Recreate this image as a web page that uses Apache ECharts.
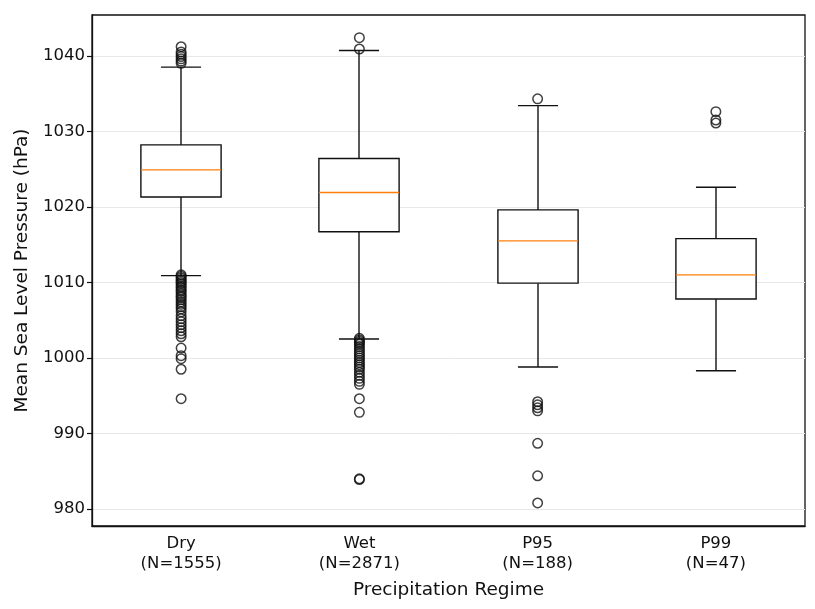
<!DOCTYPE html>
<html>
<head>
<meta charset="utf-8">
<script src="https://cdn.jsdelivr.net/npm/echarts@6/dist/echarts.min.js"></script>
<style>
html, body { margin: 0; padding: 0; background: #fff; }
#main { width: 815px; height: 609px; }
</style>
</head>
<body>
<div id="main"></div>
<script>
var categories = ['Dry\n(N=1555)', 'Wet\n(N=2871)', 'P95\n(N=188)', 'P99\n(N=47)'];
var yTicks = [980, 990, 1000, 1010, 1020, 1030, 1040];

// [whisker low, Q1, median, Q3, whisker high]
var dryBox = [1010.9, 1021.3, 1024.9, 1028.2, 1038.5];
var wetBox = [1002.5, 1016.7, 1021.9, 1026.4, 1040.7];
var p95Box = [998.8, 1009.9, 1015.5, 1019.6, 1033.4];
var p99Box = [998.3, 1007.8, 1011.0, 1015.8, 1022.6];

var dryOutliers = [1041.2, 1040.5, 1040.2, 1039.9, 1039.6, 1039.3, 1039.0,
  1011.0, 1010.8, 1010.6, 1010.4, 1010.2, 1010.0, 1009.8, 1009.5, 1009.3, 1009.0,
  1008.8, 1008.5, 1008.2, 1008.0, 1007.7, 1007.4, 1007.1, 1006.8, 1006.5, 1006.1,
  1005.6, 1005.2, 1004.8, 1004.4, 1004.0, 1003.6, 1003.2, 1002.8,
  1001.3, 1000.3, 999.9, 998.5, 994.6];
var wetOutliers = [1042.4, 1040.9,
  1002.6, 1002.4, 1002.2, 1002.0, 1001.8, 1001.5, 1001.2, 1000.9, 1000.6, 1000.3,
  1000.0, 999.7, 999.4, 999.1, 998.8, 998.5, 998.1, 997.7, 997.3, 996.9, 996.5,
  994.6, 992.8, 984.0, 983.9];
var p95Outliers = [1034.3, 994.2, 993.8, 993.4, 993.0, 988.7, 984.4, 980.8];
var p99Outliers = [1032.6, 1031.5, 1031.1];

var boxes = [dryBox, wetBox, p95Box, p99Box];
var outliers = [dryOutliers, wetOutliers, p95Outliers, p99Outliers];

var boxData = boxes.map(function (b, i) { return [i].concat(b); });
var outlierData = [];
outliers.forEach(function (arr, i) {
  arr.forEach(function (v) { outlierData.push([i, v]); });
});

var chart = echarts.init(document.getElementById('main'));

var option = {
  animation: false,
  grid: {
    left: 92, right: 10, top: 15, bottom: 83,
    show: true, borderColor: '#111', borderWidth: 1.3, backgroundColor: '#fff'
  },
  xAxis: {
    type: 'category',
    data: categories,
    boundaryGap: true,
    name: 'Precipitation Regime',
    nameLocation: 'middle',
    nameGap: 55,
    nameTextStyle: { fontFamily: 'DejaVu Sans', fontSize: 18.5, color: '#111' },
    axisLine: { lineStyle: { color: '#111', width: 1.3 } },
    axisTick: { alignWithLabel: true, length: 5, lineStyle: { color: '#111', width: 1.2 } },
    axisLabel: { fontFamily: 'DejaVu Sans', fontSize: 16.5, color: '#111', lineHeight: 19.5, margin: 8 },
    splitLine: { show: false }
  },
  yAxis: {
    type: 'value',
    min: 977.75,
    max: 1045.4,
    name: 'Mean Sea Level Pressure (hPa)',
    nameLocation: 'middle',
    nameGap: 60,
    nameTextStyle: { fontFamily: 'DejaVu Sans', fontSize: 18.5, color: '#111' },
    axisLine: { show: true, lineStyle: { color: '#111', width: 1.3 } },
    axisTick: { show: true, length: 5, customValues: yTicks, lineStyle: { color: '#111', width: 1.2 } },
    axisLabel: {
      fontFamily: 'DejaVu Sans', fontSize: 16.5, color: '#111', margin: 7, customValues: yTicks,
      formatter: function (v) { return String(v); }
    },
    splitLine: { show: true, lineStyle: { color: '#e8e8e8', width: 1 } }
  },
  series: [
    {
      type: 'custom',
      data: boxData,
      encode: { x: 0, y: [1, 2, 3, 4, 5] },
      z: 3,
      renderItem: function (params, api) {
        var idx = api.value(0);
        var lo = api.coord([idx, api.value(1)]);
        var q1 = api.coord([idx, api.value(2)]);
        var md = api.coord([idx, api.value(3)]);
        var q3 = api.coord([idx, api.value(4)]);
        var hi = api.coord([idx, api.value(5)]);
        var band = api.size([1, 0])[0];
        var bw = band * 0.45;
        var cw = bw / 2;
        var x = Math.round(lo[0]);
        var st = { stroke: '#111', lineWidth: 1.4, fill: null };
        return {
          type: 'group',
          children: [
            { type: 'line', shape: { x1: x, y1: q3[1], x2: x, y2: hi[1] }, style: st },
            { type: 'line', shape: { x1: x, y1: q1[1], x2: x, y2: lo[1] }, style: st },
            { type: 'line', shape: { x1: x - cw / 2, y1: hi[1], x2: x + cw / 2, y2: hi[1] }, style: st },
            { type: 'line', shape: { x1: x - cw / 2, y1: lo[1], x2: x + cw / 2, y2: lo[1] }, style: st },
            { type: 'rect', shape: { x: x - bw / 2, y: q3[1], width: bw, height: q1[1] - q3[1] },
              style: { stroke: '#111', lineWidth: 1.4, fill: '#fff' } },
            { type: 'line', shape: { x1: x - bw / 2, y1: md[1], x2: x + bw / 2, y2: md[1] },
              style: { stroke: '#ff7f0e', lineWidth: 1.4 } }
          ]
        };
      }
    },
    {
      type: 'scatter',
      data: outlierData,
      z: 4,
      symbol: 'circle',
      symbolSize: 9.5,
      itemStyle: { color: 'rgba(0,0,0,0)', borderColor: '#111', borderWidth: 1.5 }
    }
  ]
};

chart.setOption(option);
</script>
</body>
</html>
